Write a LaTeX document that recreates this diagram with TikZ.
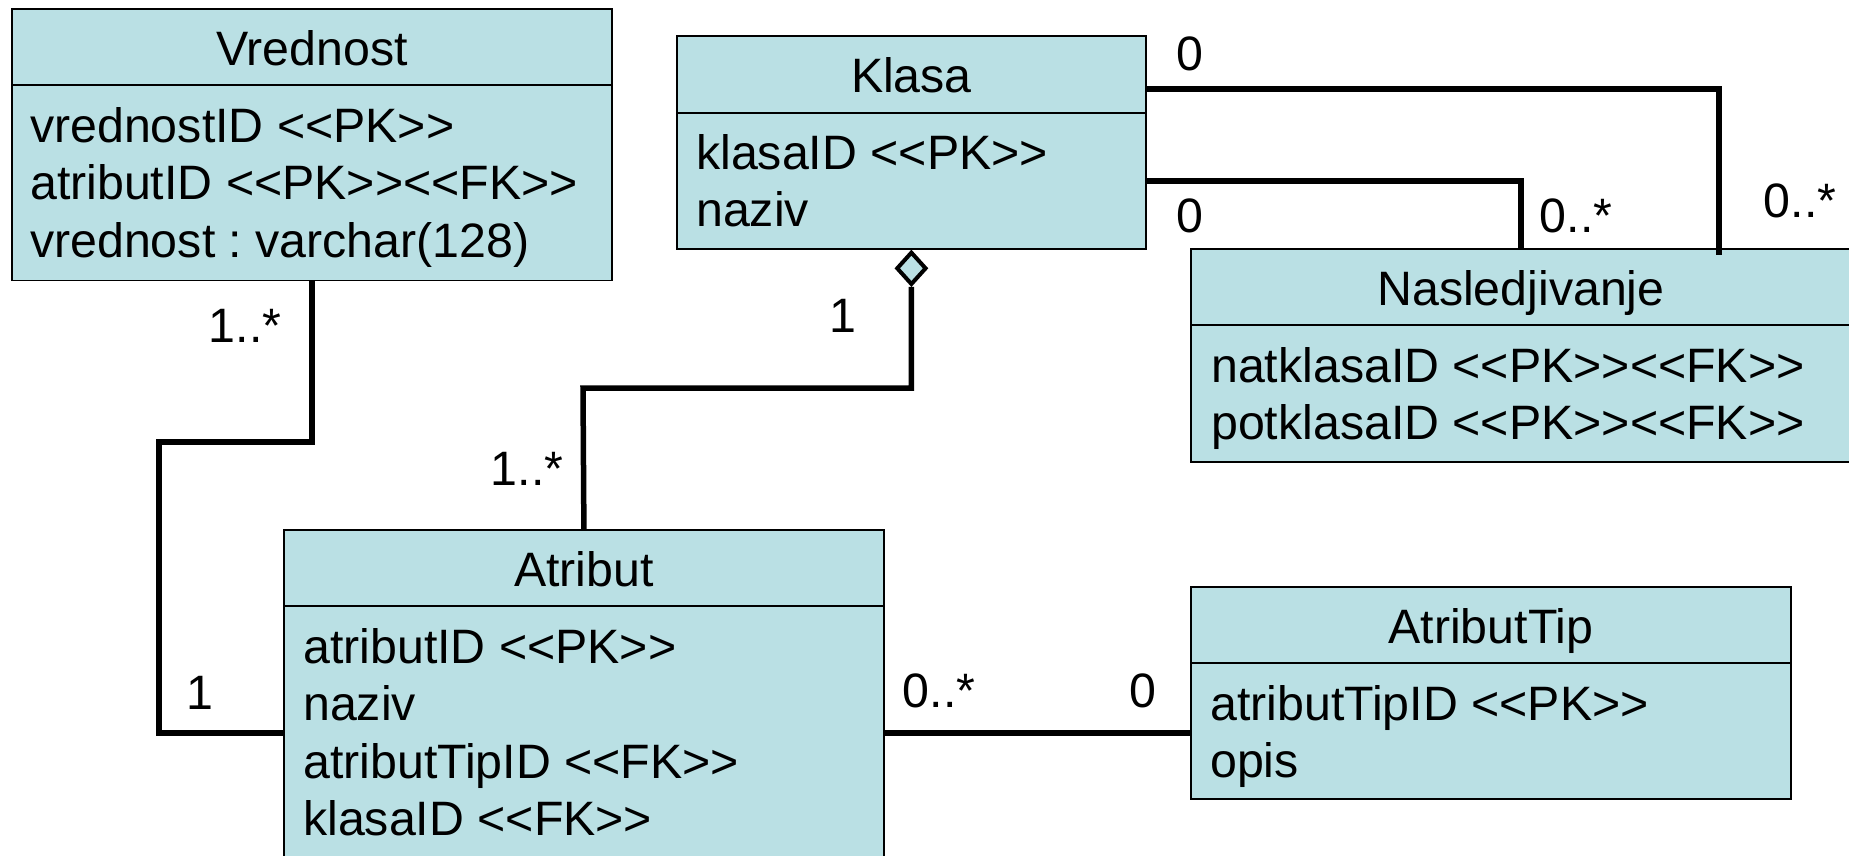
\documentclass[tikz,border=0pt]{standalone}
\usepackage{fontspec}
\setmainfont{Liberation Sans}[Ligatures=TeXOff]
\usetikzlibrary{shapes.geometric}
\definecolor{boxfill}{RGB}{186,224,228}
\frenchspacing

\begin{document}
\begin{tikzpicture}[x=1pt,y=-1pt,font=\fontsize{48.3}{57}\selectfont]
            \tikzstyle{every node}=[inner sep=0pt]
            \tikzstyle{cls}=[draw,line width=1.8pt,fill=boxfill,anchor=north west]
            \tikzstyle{divider}=[line width=1.8pt]
            \tikzstyle{title}=[anchor=base]
            \tikzstyle{attr}=[anchor=base west]
            \tikzstyle{mult}=[anchor=base]
            \tikzstyle{link}=[line width=5.5pt]
            \useasboundingbox (0,0) rectangle (1849,855);
            \clip (0,0) rectangle (1849,855);
            % the five tables
            \node[cls,minimum width=600pt,minimum height=271.5pt] (vred) at (11,8) {};
            \node[cls,minimum width=469pt,minimum height=213pt] (kls) at (676,35) {};
            \node[cls,minimum width=660pt,minimum height=213pt] (nas) at (1190,248) {};
            \node[cls,minimum width=600pt,minimum height=406pt] (atr) at (283,529) {};
            \node[cls,minimum width=600pt,minimum height=212pt] (tip) at (1190,586) {};
            \draw[divider] ([yshift=-77pt]vred.north west) -- ([yshift=-77pt]vred.north east);
            \draw[divider] ([yshift=-78pt]kls.north west) -- ([yshift=-78pt]kls.north east);
            \draw[divider] ([yshift=-77pt]nas.north west) -- ([yshift=-77pt]nas.north east);
            \draw[divider] ([yshift=-77pt]atr.north west) -- ([yshift=-77pt]atr.north east);
            \draw[divider] ([yshift=-77pt]tip.north west) -- ([yshift=-77pt]tip.north east);
            \node[title] (vredT) at ([yshift=-57pt]vred.north) {Vrednost};
            \node[title] (klsT) at ([yshift=-57pt]kls.north) {Klasa};
            \node[title] (nasT) at ([yshift=-57pt]nas.north) {Nasledjivanje};
            \node[title] (atrT) at ([yshift=-57pt]atr.north) {Atribut};
            \node[title] (tipT) at ([yshift=-57pt]tip.north) {AtributTip};
            \node[attr] (vred1) at ([xshift=19pt,yshift=-134pt]vred.north west) {vrednostID <<PK>>};
            \node[attr] (vred2) at ([xshift=19pt,yshift=-191.5pt]vred.north west) {atributID <<PK>><<FK>>};
            \node[attr] (vred3) at ([xshift=19pt,yshift=-249pt]vred.north west) {vrednost : varchar(128)};
            \node[attr] (kls1) at ([xshift=20pt,yshift=-134pt]kls.north west) {klasaID <<PK>>};
            \node[attr] (kls2) at ([xshift=20pt,yshift=-191.5pt]kls.north west) {naziv};
            \node[attr] (nas1) at ([xshift=21pt,yshift=-134pt]nas.north west) {natklasaID <<PK>><<FK>>};
            \node[attr] (nas2) at ([xshift=21pt,yshift=-191.5pt]nas.north west) {potklasaID <<PK>><<FK>>};
            \node[attr] (atr1) at ([xshift=20pt,yshift=-134pt]atr.north west) {atributID <<PK>>};
            \node[attr] (atr2) at ([xshift=20pt,yshift=-191.5pt]atr.north west) {naziv};
            \node[attr] (atr3) at ([xshift=20pt,yshift=-249pt]atr.north west) {atributTipID <<FK>>};
            \node[attr] (atr4) at ([xshift=20pt,yshift=-306.5pt]atr.north west) {klasaID <<FK>>};
            \node[attr] (tip1) at ([xshift=20pt,yshift=-134pt]tip.north west) {atributTipID <<PK>>};
            \node[attr] (tip2) at ([xshift=20pt,yshift=-191.5pt]tip.north west) {opis};
            % connectors
            \coordinate (bendV) at (159,442);
            \coordinate (bendA) at (583,388);
            \node[draw,diamond,line width=4pt,fill=boxfill,minimum width=30pt,minimum height=33pt,anchor=north] (agg) at (kls.south) {};
            \draw[link] (vred.south) |- (bendV) |- (atr.west);
            \draw[link] (agg.south) |- (bendA) -- (atr.north);
            \draw[link] (atr.east) -- (atr.east -| tip.west);
            \draw[link] ([yshift=-54pt]kls.north east) -| ([xshift=529pt,yshift=-7pt]nas.north west);
            \draw[link] ([yshift=-146pt]kls.north east) -| (nas.north);
            % multiplicities
            \node[mult] (m1) at (245,342) {1..*};
            \node[mult] (m2) at (200,709) {1};
            \node[mult] (m3) at (527,485) {1..*};
            \node[mult] (m4) at (843,332) {1};
            \node[mult] (m5) at (1190,70) {0};
            \node[mult] (m6) at (1190,232) {0};
            \node[mult] (m7) at (1576,232) {0..*};
            \node[mult] (m8) at (1800,217) {0..*};
            \node[mult] (m9) at (939,707) {0..*};
            \node[mult] (m10) at (1143,707) {0};
        \end{tikzpicture}
\end{document}
